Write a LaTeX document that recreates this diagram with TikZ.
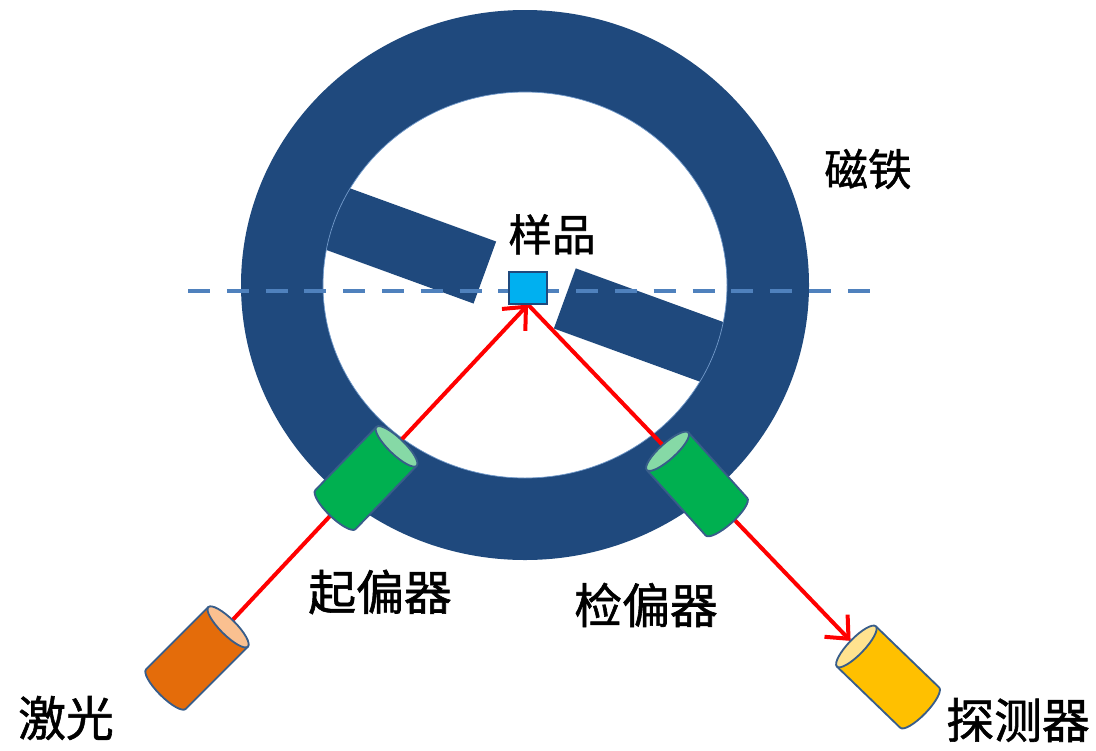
\documentclass[tikz,border=0pt]{standalone}
\usepackage{fontspec}
\newfontfamily\cjk[FakeBold=1.2]{Noto Sans CJK SC}
\usetikzlibrary{arrows.meta, positioning}

\definecolor{magnet}{HTML}{1F497D}
\definecolor{axisblue}{HTML}{4F81BD}
\definecolor{edge}{HTML}{385D8A}
\definecolor{beamred}{HTML}{FF0000}
\definecolor{samplecyan}{HTML}{00B0F0}
\definecolor{lasorange}{HTML}{E46C0A}
\definecolor{lascap}{HTML}{FAC090}
\definecolor{polgreen}{HTML}{00B050}
\definecolor{polcap}{HTML}{86D9A6}
\definecolor{detgold}{HTML}{FFC000}
\definecolor{detcap}{HTML}{FFE38F}

\pgfdeclarelayer{back}
\pgfdeclarelayer{rays}
\pgfsetlayers{back,rays,main}

% cylinder lying along its local x axis, cap at the +x end
\newcommand{\opticpart}[5]{%
  \begin{scope}[shift={#2}, rotate=#3]
    \filldraw[opticedge, fill=#4] (-44,-28) -- (44,-28) -- (44,28) -- (-44,28)
      arc[start angle=90, end angle=270, x radius=8, y radius=28] -- cycle;
    \filldraw[opticedge, fill=#5] (44,0) ellipse [x radius=8, y radius=28];
    \coordinate (#1) at (0,0);
    \coordinate (#1 top) at (52,0);
  \end{scope}}

\begin{document}
\begin{tikzpicture}[x=0.025cm, y=-0.025cm,
  opticedge/.style={draw=edge, line width=1.3pt, line join=round},
  specimen/.style={rectangle, fill=samplecyan, draw=magnet, line width=0.8pt,
    minimum width=0.95cm, minimum height=0.8cm, inner sep=0pt},
  beam/.style={draw=beamred, line width=0.1cm,
    -{Straight Barb[length=0.45cm, width=0.8cm]}},
  fieldline/.style={draw=axisblue, line width=0.1cm, dash pattern=on 0.55cm off 0.42cm},
  cjktext/.style={font=\cjk\fontsize{34}{36}\selectfont, text=black},
  cjksmall/.style={font=\cjk\fontsize{31}{33}\selectfont, text=black}
]
  \useasboundingbox (0,0) rectangle (1096,750);

  \opticpart{laser}{(197,658)}{45}{lasorange}{lascap}
  \opticpart{pol}{(366,478)}{46}{polgreen}{polcap}
  \opticpart{ana}{(697,484)}{132}{polgreen}{polcap}
  \opticpart{det}{(888,677)}{136}{detgold}{detcap}
  \node[specimen] (sample) at (528,288) {};

  \begin{pgfonlayer}{back}
    \begin{scope}[shift={(525,285)}, rotate=-20]
      \fill[magnet] (-240,-31) rectangle (-42,35);
      \fill[magnet] (42,-33) rectangle (240,31);
    \end{scope}
    \fill[magnet, even odd rule] (525,285) ellipse [x radius=284, y radius=275]
      (525,285) ellipse [x radius=202, y radius=193];
    \draw[axisblue!80, line width=0.5pt] (525,285) ellipse [x radius=202, y radius=193];
    \draw[fieldline] (188,291) -- (880,291);
  \end{pgfonlayer}

  \begin{pgfonlayer}{rays}
    \draw[beam] (laser) -- (sample.south);
    \draw[beam] (sample.south) -- (det top);
  \end{pgfonlayer}

  \node[cjksmall] (magnetlbl) at (868,169) {磁铁};
  \node[cjksmall, above=0.3cm of sample, xshift=0.6cm] (samplelbl) {样品};
  \node[cjktext] (pollbl) at (380,592) {起偏器};
  \node[cjktext] (analbl) at (646,605) {检偏器};
  \node[cjktext] (laserlbl) at (66,718) {激光};
  \node[cjktext] (detlbl) at (1018,720) {探测器};
\end{tikzpicture}
\end{document}
